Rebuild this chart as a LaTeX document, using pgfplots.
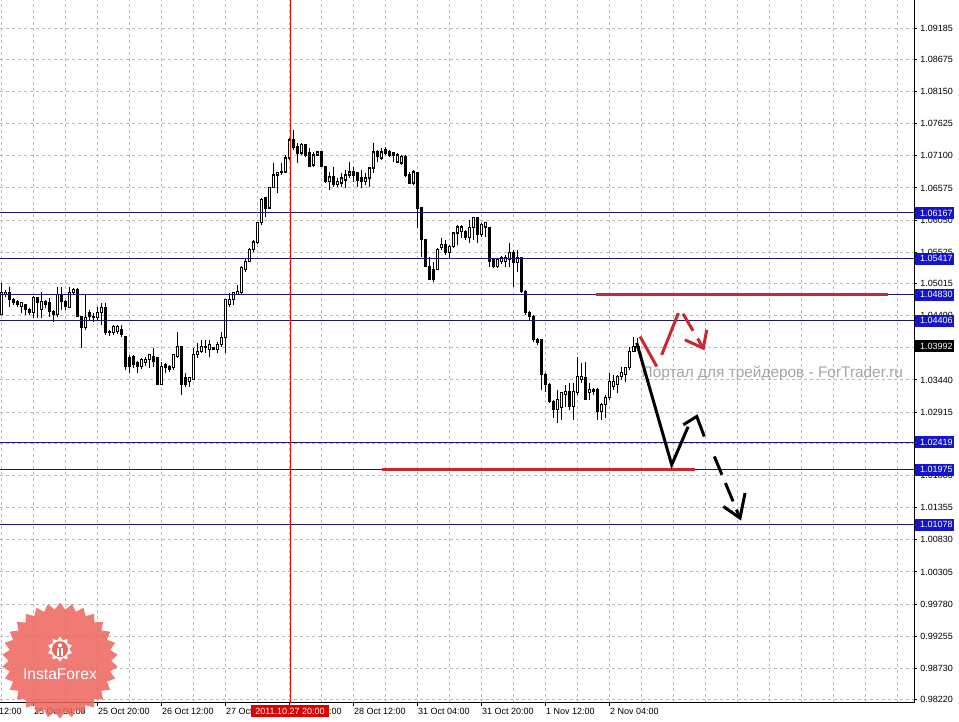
\documentclass[border=0pt]{standalone}
\usepackage{fontspec}
\setmainfont{Liberation Sans}
\usepackage{pgfplots}
\usepackage{pgfplotstable}
\pgfplotsset{compat=1.18}
\usetikzlibrary{shapes.geometric}

\definecolor{navyline}{RGB}{25,25,112}
\definecolor{lblblue}{RGB}{20,20,205}
\definecolor{trendred}{RGB}{200,40,50}
\definecolor{vred}{RGB}{255,0,0}
\definecolor{gridgray}{RGB}{185,185,185}
\definecolor{logored}{RGB}{236,100,92}
\definecolor{wmgray}{RGB}{165,165,165}
\newcommand{\tl}{\fontsize{4.5}{5.4}\selectfont}

% hourly candles, i = bar number from the left edge
\pgfplotstableread{
i o h l c
0 1.04503 1.05025 1.04503 1.04862
1 1.04830 1.04911 1.04797 1.04862
2 1.04862 1.04960 1.04634 1.04748
3 1.04748 1.04781 1.04666 1.04699
4 1.04715 1.04748 1.04634 1.04666
5 1.04634 1.04715 1.04536 1.04699
6 1.04666 1.04666 1.04503 1.04585
7 1.04585 1.04618 1.04503 1.04536
8 1.04536 1.04813 1.04454 1.04781
9 1.04781 1.04781 1.04454 1.04699
10 1.04585 1.04879 1.04454 1.04715
11 1.04715 1.04748 1.04618 1.04666
12 1.04699 1.04781 1.04471 1.04552
13 1.04552 1.04585 1.04389 1.04503
14 1.04503 1.04960 1.04471 1.04830
15 1.04830 1.04960 1.04585 1.04715
16 1.04715 1.04748 1.04585 1.04634
17 1.04618 1.04960 1.04618 1.04862
18 1.04862 1.04944 1.04830 1.04911
19 1.04911 1.04944 1.04471 1.04471
20 1.04471 1.04471 1.03965 1.04291
21 1.04291 1.04830 1.04258 1.04454
22 1.04536 1.04585 1.04422 1.04471
23 1.04454 1.04536 1.04389 1.04471
24 1.04454 1.04634 1.04422 1.04536
25 1.04536 1.04699 1.04340 1.04618
26 1.04618 1.04699 1.04177 1.04209
27 1.04226 1.04258 1.04160 1.04209
28 1.04209 1.04340 1.04177 1.04307
29 1.04226 1.04340 1.04193 1.04307
30 1.04258 1.04340 1.04144 1.04177
31 1.04144 1.04144 1.03606 1.03654
32 1.03801 1.03850 1.03557 1.03654
33 1.03818 1.03850 1.03638 1.03687
34 1.03720 1.03752 1.03557 1.03654
35 1.03654 1.03801 1.03622 1.03769
36 1.03720 1.03818 1.03671 1.03769
37 1.03769 1.03850 1.03638 1.03850
38 1.03818 1.03965 1.03654 1.03736
39 1.03801 1.03801 1.03361 1.03361
40 1.03361 1.03736 1.03361 1.03654
41 1.03687 1.03720 1.03557 1.03638
42 1.03654 1.03687 1.03573 1.03606
43 1.03638 1.03850 1.03606 1.03850
44 1.03818 1.04226 1.03801 1.03981
45 1.03981 1.03981 1.03198 1.03361
46 1.03475 1.03557 1.03328 1.03361
47 1.03410 1.03491 1.03328 1.03475
48 1.03442 1.03965 1.03442 1.03850
49 1.03850 1.04046 1.03801 1.03899
50 1.03899 1.04095 1.03883 1.03981
51 1.03981 1.04095 1.03883 1.03965
52 1.03932 1.04095 1.03818 1.04014
53 1.03965 1.03981 1.03932 1.03932
54 1.03932 1.04062 1.03883 1.04014
55 1.04014 1.04226 1.03981 1.04128
56 1.04128 1.04748 1.03883 1.04748
57 1.04666 1.04862 1.04634 1.04748
58 1.04748 1.04862 1.04666 1.04862
59 1.04830 1.04993 1.04830 1.04879
60 1.04862 1.05303 1.04830 1.05270
61 1.05238 1.05433 1.05205 1.05368
62 1.05368 1.05597 1.05368 1.05564
63 1.05564 1.05727 1.05531 1.05694
64 1.05678 1.06021 1.05662 1.06005
65 1.06005 1.06413 1.05972 1.06380
66 1.06413 1.06413 1.06103 1.06249
67 1.06249 1.06592 1.06233 1.06576
68 1.06576 1.06984 1.06576 1.06788
69 1.06788 1.06837 1.06494 1.06821
70 1.06821 1.06984 1.06788 1.06837
71 1.06837 1.07114 1.06837 1.07065
72 1.07065 1.07392 1.07033 1.07359
73 1.07359 1.07522 1.07196 1.07229
74 1.07245 1.07310 1.06984 1.07147
75 1.07147 1.07310 1.07114 1.07278
76 1.07278 1.07278 1.07082 1.07114
77 1.07147 1.07229 1.06919 1.06919
78 1.06951 1.07163 1.06919 1.07114
79 1.07114 1.07180 1.07098 1.07163
80 1.07163 1.07180 1.06919 1.06919
81 1.06919 1.06919 1.06657 1.06674
82 1.06674 1.06837 1.06543 1.06755
83 1.06755 1.06919 1.06592 1.06625
84 1.06625 1.06739 1.06592 1.06674
85 1.06657 1.06821 1.06592 1.06739
86 1.06706 1.06870 1.06576 1.06788
87 1.06788 1.07000 1.06739 1.06837
88 1.06837 1.06919 1.06674 1.06788
89 1.06821 1.06821 1.06592 1.06706
90 1.06739 1.06870 1.06576 1.06674
91 1.06674 1.06821 1.06625 1.06739
92 1.06739 1.06902 1.06592 1.06902
93 1.06902 1.07310 1.06821 1.07163
94 1.07163 1.07196 1.07000 1.07082
95 1.07065 1.07229 1.07033 1.07163
96 1.07196 1.07245 1.07114 1.07147
97 1.07163 1.07196 1.07082 1.07114
98 1.07147 1.07163 1.07000 1.07114
99 1.07000 1.07147 1.06984 1.07114
100 1.06984 1.07114 1.06951 1.07082
101 1.07082 1.07114 1.06755 1.06788
102 1.06788 1.06837 1.06657 1.06657
103 1.06657 1.06870 1.06625 1.06837
104 1.06821 1.06837 1.05923 1.06249
105 1.06249 1.06249 1.05450 1.05727
106 1.05727 1.05727 1.05287 1.05287
107 1.05287 1.05450 1.05074 1.05074
108 1.05238 1.05368 1.05042 1.05074
109 1.05238 1.05597 1.05238 1.05564
110 1.05597 1.05760 1.05564 1.05646
111 1.05646 1.05727 1.05482 1.05515
112 1.05515 1.05646 1.05433 1.05613
113 1.05613 1.05858 1.05597 1.05841
114 1.05841 1.05972 1.05646 1.05939
115 1.05858 1.05972 1.05760 1.05939
116 1.05858 1.05890 1.05727 1.05760
117 1.05760 1.06054 1.05678 1.05923
118 1.05923 1.06103 1.05727 1.06086
119 1.06086 1.06103 1.05678 1.05809
120 1.05809 1.06005 1.05776 1.05972
121 1.05939 1.06021 1.05776 1.06005
122 1.05923 1.05923 1.05287 1.05368
123 1.05401 1.05433 1.05270 1.05287
124 1.05287 1.05433 1.05270 1.05401
125 1.05368 1.05466 1.05336 1.05433
126 1.05368 1.05482 1.05287 1.05433
127 1.05401 1.05678 1.05287 1.05515
128 1.05515 1.05564 1.04960 1.05352
129 1.05352 1.05564 1.05205 1.05433
130 1.05433 1.05433 1.04862 1.04879
131 1.04879 1.04911 1.04503 1.04536
132 1.04536 1.04569 1.04422 1.04471
133 1.04471 1.04503 1.04062 1.04095
134 1.04095 1.04128 1.04014 1.04046
135 1.04095 1.04095 1.03279 1.03524
136 1.03524 1.03557 1.03246 1.03361
137 1.03361 1.03393 1.03067 1.03083
138 1.03083 1.03116 1.02822 1.02953
139 1.02953 1.03279 1.02741 1.03116
140 1.02986 1.03246 1.02790 1.03230
141 1.03198 1.03361 1.03002 1.03246
142 1.03246 1.03393 1.02953 1.03002
143 1.03002 1.03393 1.02790 1.03246
144 1.03230 1.03818 1.03198 1.03491
145 1.03442 1.03720 1.03393 1.03491
146 1.03475 1.03736 1.03116 1.03116
147 1.03230 1.03393 1.03116 1.03279
148 1.03279 1.03312 1.03198 1.03246
149 1.03279 1.03312 1.02790 1.02920
150 1.02920 1.03067 1.02790 1.03034
151 1.03034 1.03198 1.02822 1.03149
152 1.03149 1.03557 1.03116 1.03410
153 1.03328 1.03524 1.03279 1.03410
154 1.03361 1.03524 1.03230 1.03491
155 1.03491 1.03654 1.03442 1.03557
156 1.03524 1.03654 1.03410 1.03638
157 1.03638 1.03981 1.03606 1.03899
158 1.03899 1.04144 1.03899 1.03981
159 1.03965 1.04128 1.03932 1.03992
}\candles
\pgfplotstablegetrowsof{\candles}
\pgfmathtruncatemacro\lastrow{\pgfplotsretval-1}

\begin{document}%
\begin{tikzpicture}
\begin{axis}[
  name=ax, at={(0,0)}, anchor=south west,
  scale only axis, width=457pt, height=351.5pt,
  xmin=-0.42, xmax=228.08, ymin=0.98171, ymax=1.09644,
  axis x line*=bottom, axis y line*=right,
  axis line style={black, line width=0.5pt},
  tick align=outside, major tick length=1.5pt, minor tick length=0pt,
  tick style={black, line width=0.5pt},
  xtick={8,24,...,152},
  xticklabels={25 Oct 04:00, 25 Oct 20:00, 26 Oct 12:00, 27 Oct 04:00, 27 Oct 20:00, 28 Oct 12:00, 31 Oct 04:00, 31 Oct 20:00, 1 Nov 12:00, 2 Nov 04:00},
  minor xtick={0,8,...,224},
  ytick={0.98220,0.98730,0.99255,0.99780,1.00305,1.00830,1.01355,1.01880,1.02405,1.02915,1.03440,1.03965,1.04490,1.05015,1.05525,1.06050,1.06575,1.07100,1.07625,1.08150,1.08675,1.09185},
  yticklabels={0.98220,0.98730,0.99255,0.99780,1.00305,1.00830,1.01355,1.01880,1.02405,1.02915,1.03440,1.03965,1.04490,1.05015,1.05525,1.06050,1.06575,1.07100,1.07625,1.08150,1.08675,1.09185},
  scaled y ticks=false,
  grid=both,
  major grid style={gridgray, line width=0.5pt, dash pattern=on 1.5pt off 1.5pt},
  minor grid style={gridgray, line width=0.5pt, dash pattern=on 1.5pt off 1.5pt},
  xticklabel style={font=\tl, anchor=north west, inner sep=0pt, yshift=-1pt},
  yticklabel style={font=\tl, anchor=west, inner sep=0pt, xshift=1.5pt},
]
% candles: wick, then body (white = up, black = down)
\pgfplotsforeachungrouped \r in {0,...,\lastrow}{%
  \pgfplotstablegetelem{\r}{i}\of\candles \let\X\pgfplotsretval
  \pgfplotstablegetelem{\r}{o}\of\candles \let\O\pgfplotsretval
  \pgfplotstablegetelem{\r}{h}\of\candles \let\H\pgfplotsretval
  \pgfplotstablegetelem{\r}{l}\of\candles \let\L\pgfplotsretval
  \pgfplotstablegetelem{\r}{c}\of\candles \let\C\pgfplotsretval
  \pgfmathsetmacro\XL{\X-0.3}%
  \pgfmathsetmacro\XR{\X+0.3}%
  \ifdim\C pt<\O pt \def\F{black}\else\def\F{white}\fi
  \edef\doplot{%
    \noexpand\addplot[black, line width=0.6pt, forget plot] coordinates {(\X,\L) (\X,\H)};
    \noexpand\addplot[draw=black, fill=\F, line width=0.6pt, forget plot] coordinates {(\XL,\O) (\XR,\O) (\XR,\C) (\XL,\C) (\XL,\O)};
  }\doplot
}
% support / resistance levels
\pgfplotsinvokeforeach{1.06167,1.05417,1.04830,1.04406,1.02419,1.01975,1.01078}{
  \addplot[navyline, line width=0.5pt, forget plot] coordinates {(-0.42,#1) (228.08,#1)};
}
\addplot[trendred, line width=1.5pt, forget plot] coordinates {(148.6,1.04830) (221.6,1.04830)};
\addplot[trendred, line width=1.5pt, forget plot] coordinates {(95.08,1.01975) (173.3,1.01975)};
\node[anchor=base west, text=wmgray, font=\fontsize{7.7}{8}\selectfont, inner sep=0pt] at (axis cs:159.9,1.03475) {Портал для трейдеров - ForTrader.ru};
% forecast arrows
\addplot[black, line width=1.5pt, forget plot] coordinates {(158.76,1.04046) (167.5,1.02055) (171.6,1.02676)};
\addplot[black, line width=1.5pt, forget plot] coordinates {(170.4,1.02708) (173.76,1.02844) (175.66,1.02517)};
\addplot[black, line width=1.5pt, dash pattern=on 9.9pt off 4.5pt, forget plot] coordinates {(178.16,1.02191) (184.58,1.01185)};
\addplot[black, line width=1.5pt, forget plot] coordinates {(180.4,1.01375) (184.58,1.01185) (185.83,1.01593)};
\addplot[trendred, line width=1.5pt, forget plot] coordinates {(159.58,1.04149) (163.76,1.03660)};
\addplot[trendred, line width=1.5pt, forget plot] coordinates {(165.0,1.03850) (169.16,1.04531)};
\addplot[trendred, line width=1.5pt, dash pattern=on 9.9pt off 4.5pt, forget plot] coordinates {(170.33,1.04520) (175.4,1.03960)};
\addplot[trendred, line width=1.5pt, forget plot] coordinates {(170.8,1.04095) (175.4,1.03960) (176.26,1.04258)};
% anchors for the price and time boxes
\coordinate (p1) at (axis cs:228.08,1.06167);
\coordinate (p2) at (axis cs:228.08,1.05417);
\coordinate (p3) at (axis cs:228.08,1.04830);
\coordinate (p4) at (axis cs:228.08,1.04406);
\coordinate (p5) at (axis cs:228.08,1.03992);
\coordinate (p6) at (axis cs:228.08,1.02419);
\coordinate (p7) at (axis cs:228.08,1.01975);
\coordinate (p8) at (axis cs:228.08,1.01078);
\coordinate (tcur) at (axis cs:72.08,0.98171);
\coordinate (tm8) at (axis cs:-8,0.98171);
\coordinate (vtop) at (axis cs:72.08,1.09644);
\end{axis}
% crosshair at 2011.10.27 20:00
\draw[vred, line width=0.5pt] (tcur) -- (vtop);
% badge, semi-transparent so the grid shows through
\begin{scope}[shift={(ax.south west)}]
\node[star, star points=30, star point ratio=1.13, minimum size=58pt, inner sep=0pt, fill=logored, opacity=0.85] at (30pt,21pt) {};
\node[star, star points=10, star point ratio=1.35, minimum size=12.5pt, inner sep=0pt, fill=white] at (30pt,26.75pt) {};
\fill[logored] (30pt,26.75pt) circle (4pt);
\fill[white] (30pt,28.7pt) circle (1pt);
\fill[white] (28.5pt,23.4pt) rectangle (29.4pt,27.3pt);
\fill[white] (30.6pt,23.4pt) rectangle (31.5pt,27.3pt);
\node[text=white, font=\fontsize{7.8}{8}\selectfont, inner sep=0pt] at (30pt,14pt) {InstaForex};
\end{scope}
\tikzset{pbox/.style={anchor=west, font=\tl, text=white, inner xsep=0pt, inner ysep=0pt, minimum height=6pt, xshift=0.3pt}}
\node[pbox, fill=lblblue] at (p1) {\hspace*{2.6pt}1.06167\hspace*{0.6pt}};
\node[pbox, fill=lblblue] at (p2) {\hspace*{2.6pt}1.05417\hspace*{0.6pt}};
\node[pbox, fill=lblblue] at (p3) {\hspace*{2.6pt}1.04830\hspace*{0.6pt}};
\node[pbox, fill=lblblue] at (p4) {\hspace*{2.6pt}1.04406\hspace*{0.6pt}};
\node[pbox, fill=black] at (p5) {\hspace*{2.6pt}1.03992\hspace*{0.6pt}};
\node[pbox, fill=lblblue] at (p6) {\hspace*{2.6pt}1.02419\hspace*{0.6pt}};
\node[pbox, fill=lblblue] at (p7) {\hspace*{2.6pt}1.01975\hspace*{0.6pt}};
\node[pbox, fill=lblblue] at (p8) {\hspace*{2.6pt}1.01078\hspace*{0.6pt}};
\node[anchor=north, fill=vred!88!black, text=white, font=\tl, inner xsep=2pt, inner ysep=0pt, minimum height=6pt, yshift=-1pt] at (tcur) {2011.10.27 20:00};
\node[anchor=north west, font=\tl, inner sep=0pt, yshift=-2.5pt] at (tm8) {24 Oct 12:00};
\pgfresetboundingbox
\useasboundingbox ([yshift=-9.5pt]ax.south west) rectangle ([xshift=22.5pt]ax.north east);
\end{tikzpicture}%
\end{document}
